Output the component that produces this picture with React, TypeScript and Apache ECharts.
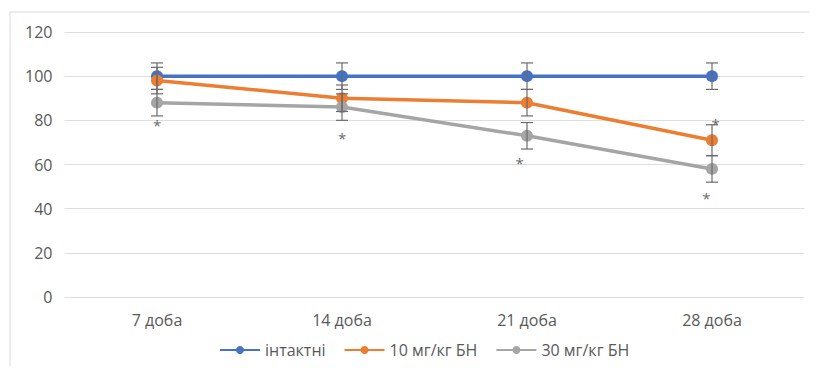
import React, { useEffect, useRef } from "react";
import * as echarts from "echarts";

const categories = ["7 доба", "14 доба", "21 доба", "28 доба"];
const seriesNames = ["інтактні", "10 мг/кг БН", "30 мг/кг БН"];
const intact = [100, 100, 100, 100];
const dose10 = [98, 90, 88, 71];
const dose30 = [88, 86, 73, 58];
const intactErr = [6, 6, 6, 6];
const dose10Err = [6, 6, 6, 7];
const dose30Err = [6, 6, 6, 6];
const yTicks = [0, 20, 40, 60, 80, 100, 120];
// significance marks: [category position, level]
const starMarks: [number, number][] = [
  [0, 78],
  [1, 72],
  [1.96, 60.5],
  [2.97, 45],
  [3.02, 78.5],
];

const colors = ["#4472C4", "#ED7D31", "#A5A5A5"];
const font = "'Open Sans', 'Liberation Sans', sans-serif";

function errorSeries(values: number[], errs: number[]) {
  return {
    type: "custom",
    silent: true,
    z: 5,
    data: values.map((v, i) => [i, v, errs[i]]),
    renderItem: (_params: any, api: any) => {
      const i = api.value(0);
      const v = api.value(1);
      const e = api.value(2);
      const top = api.coord([i, v + e]);
      const bot = api.coord([i, v - e]);
      const cap = 6;
      const style = { stroke: "#6b6b6b", lineWidth: 1.2 };
      return {
        type: "group",
        children: [
          { type: "line", shape: { x1: top[0], y1: top[1], x2: bot[0], y2: bot[1] }, style },
          { type: "line", shape: { x1: top[0] - cap, y1: top[1], x2: top[0] + cap, y2: top[1] }, style },
          { type: "line", shape: { x1: bot[0] - cap, y1: bot[1], x2: bot[0] + cap, y2: bot[1] }, style },
        ],
      };
    },
  };
}

export default function App() {
  const ref = useRef<HTMLDivElement>(null);
  useEffect(() => {
    if (!ref.current) return;
    const chart = echarts.init(ref.current, undefined, { renderer: "svg" });
    const lineData = [intact, dose10, dose30];
    chart.setOption({
      animation: false,
      textStyle: { fontFamily: font },
      graphic: [
        {
          type: "rect",
          shape: { x: 2, y: 4, width: 830, height: 420 },
          style: { fill: "none", stroke: "#d9d9d9", lineWidth: 1 },
          silent: true,
        },
      ],
      grid: { left: 56.5, right: 5.5, top: 24, bottom: 69 },
      legend: {
        bottom: 3,
        left: 206,
        itemWidth: 40,
        itemHeight: 10,
        itemGap: 18,
        data: seriesNames,
        textStyle: { color: "#595959", fontSize: 16, fontFamily: font },
      },
      xAxis: [
        {
          type: "category",
          data: categories,
          boundaryGap: true,
          axisLine: { show: false },
          axisTick: { show: false },
          axisLabel: { color: "#595959", fontSize: 16, margin: 15, fontFamily: font },
        },
        {
          type: "value",
          min: -0.5,
          max: 3.5,
          show: false,
        },
      ],
      yAxis: {
        type: "value",
        min: yTicks[0],
        max: yTicks[yTicks.length - 1],
        interval: 20,
        axisLine: { show: false },
        axisTick: { show: false },
        axisLabel: { color: "#595959", fontSize: 16, margin: 12, fontFamily: font },
        splitLine: { lineStyle: { color: "#dedede", width: 1 } },
      },
      series: [
        ...lineData.map((d, k) => ({
          name: seriesNames[k],
          type: "line",
          data: d,
          color: colors[k],
          symbol: "circle",
          symbolSize: 12,
          lineStyle: { width: 3.5, color: colors[k] },
          itemStyle: { color: colors[k] },
          z: 3,
        })),
        errorSeries(intact, intactErr),
        errorSeries(dose10, dose10Err),
        errorSeries(dose30, dose30Err),
        {
          type: "scatter",
          xAxisIndex: 1,
          symbolSize: 0,
          silent: true,
          data: starMarks,
          label: {
            show: true,
            position: "inside",
            formatter: "*",
            color: "#404040",
            fontSize: 15,
            fontFamily: font,
          },
        },
      ],
    });
    return () => chart.dispose();
  }, []);
  return <div ref={ref} style={{ width: 802, height: 358 }} />;
}
